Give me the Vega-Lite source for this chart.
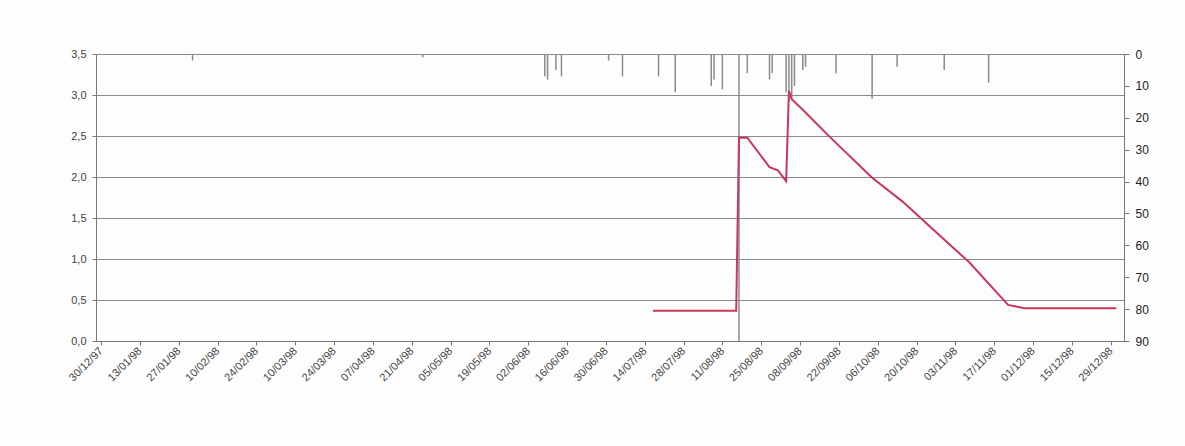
{
  "$schema": "https://vega.github.io/schema/vega-lite/v6.json",
  "width": 1028,
  "height": 287,
  "autosize": {"type": "none"},
  "padding": {"left": 96, "top": 54, "right": 61, "bottom": 105},
  "background": "#fdfdfd",
  "config": {
    "view": {"stroke": null},
    "locale": {"number": {"decimal": ",", "thousands": ".", "grouping": [3], "currency": ["", " €"]}},
    "axis": {"labelFont": "Liberation Sans", "labelColor": "#444", "labelFontSize": 11, "domainColor": "#777", "tickColor": "#777", "titleFontSize": 0},
    "axisX": {"labelOverlap": false, "labelBound": false, "labelFlush": false}
  },
  "datasets": {
    "precip": [
      {"date": "1998-02-01", "mm": 2},
      {"date": "1998-04-25", "mm": 1},
      {"date": "1998-06-08", "mm": 7},
      {"date": "1998-06-09", "mm": 8},
      {"date": "1998-06-12", "mm": 5},
      {"date": "1998-06-14", "mm": 7},
      {"date": "1998-07-01", "mm": 2},
      {"date": "1998-07-06", "mm": 7},
      {"date": "1998-07-19", "mm": 7},
      {"date": "1998-07-25", "mm": 12},
      {"date": "1998-08-07", "mm": 10},
      {"date": "1998-08-08", "mm": 8},
      {"date": "1998-08-11", "mm": 11},
      {"date": "1998-08-17", "mm": 90},
      {"date": "1998-08-20", "mm": 6},
      {"date": "1998-08-28", "mm": 8},
      {"date": "1998-08-29", "mm": 6},
      {"date": "1998-09-03", "mm": 12},
      {"date": "1998-09-04", "mm": 15},
      {"date": "1998-09-05", "mm": 14},
      {"date": "1998-09-06", "mm": 10},
      {"date": "1998-09-09", "mm": 5},
      {"date": "1998-09-10", "mm": 4},
      {"date": "1998-09-21", "mm": 6},
      {"date": "1998-10-04", "mm": 14},
      {"date": "1998-10-13", "mm": 4},
      {"date": "1998-10-30", "mm": 5},
      {"date": "1998-11-15", "mm": 9}
    ],
    "level": [
      {"date": "1998-07-17", "v": 0.37},
      {"date": "1998-08-16", "v": 0.37},
      {"date": "1998-08-17", "v": 2.48},
      {"date": "1998-08-20", "v": 2.48},
      {"date": "1998-08-28", "v": 2.12},
      {"date": "1998-08-31", "v": 2.08},
      {"date": "1998-09-03", "v": 1.95},
      {"date": "1998-09-04", "v": 3.05},
      {"date": "1998-09-05", "v": 2.95},
      {"date": "1998-09-09", "v": 2.82},
      {"date": "1998-09-19", "v": 2.48},
      {"date": "1998-10-04", "v": 1.99},
      {"date": "1998-10-15", "v": 1.70},
      {"date": "1998-10-25", "v": 1.39},
      {"date": "1998-11-08", "v": 0.96},
      {"date": "1998-11-22", "v": 0.44},
      {"date": "1998-11-28", "v": 0.40},
      {"date": "1998-12-31", "v": 0.40}
    ]
  },
  "encoding": {
    "x": {
      "field": "date", "type": "temporal",
      "scale": {"type": "utc", "domain": [{"year": 1997, "month": 12, "date": 30, "utc": true}, {"year": 1999, "month": 1, "date": 1, "utc": true}]},
      "axis": {
        "title": null, "grid": false, "format": "%d/%m/%y", "labelAngle": -45, "labelAlign": "right", "labelBaseline": "middle", "labelPadding": 4, "tickSize": 4, "labelOverlap": false,
        "values": [
          {"year": 1997, "month": 12, "date": 30, "utc": true},
          {"year": 1998, "month": 1, "date": 13, "utc": true},
          {"year": 1998, "month": 1, "date": 27, "utc": true},
          {"year": 1998, "month": 2, "date": 10, "utc": true},
          {"year": 1998, "month": 2, "date": 24, "utc": true},
          {"year": 1998, "month": 3, "date": 10, "utc": true},
          {"year": 1998, "month": 3, "date": 24, "utc": true},
          {"year": 1998, "month": 4, "date": 7, "utc": true},
          {"year": 1998, "month": 4, "date": 21, "utc": true},
          {"year": 1998, "month": 5, "date": 5, "utc": true},
          {"year": 1998, "month": 5, "date": 19, "utc": true},
          {"year": 1998, "month": 6, "date": 2, "utc": true},
          {"year": 1998, "month": 6, "date": 16, "utc": true},
          {"year": 1998, "month": 6, "date": 30, "utc": true},
          {"year": 1998, "month": 7, "date": 14, "utc": true},
          {"year": 1998, "month": 7, "date": 28, "utc": true},
          {"year": 1998, "month": 8, "date": 11, "utc": true},
          {"year": 1998, "month": 8, "date": 25, "utc": true},
          {"year": 1998, "month": 9, "date": 8, "utc": true},
          {"year": 1998, "month": 9, "date": 22, "utc": true},
          {"year": 1998, "month": 10, "date": 6, "utc": true},
          {"year": 1998, "month": 10, "date": 20, "utc": true},
          {"year": 1998, "month": 11, "date": 3, "utc": true},
          {"year": 1998, "month": 11, "date": 17, "utc": true},
          {"year": 1998, "month": 12, "date": 1, "utc": true},
          {"year": 1998, "month": 12, "date": 15, "utc": true},
          {"year": 1998, "month": 12, "date": 29, "utc": true}
        ]
      }
    }
  },
  "layer": [
    {
      "data": {"name": "precip"},
      "mark": {"type": "bar", "width": 1.5, "color": "#8a8a8a"},
      "encoding": {
        "y": {
          "field": "mm", "type": "quantitative",
          "scale": {"domain": [0, 90], "reverse": true, "nice": false},
          "axis": {"title": null, "orient": "right", "values": [0, 10, 20, 30, 40, 50, 60, 70, 80, 90], "grid": false, "tickSize": 5, "labelPadding": 6, "labelFontSize": 12, "labelColor": "#222"}
        }
      }
    },
    {
      "data": {"name": "level"},
      "mark": {"type": "line", "color": "#c8385a", "strokeWidth": 2},
      "encoding": {
        "y": {
          "field": "v", "type": "quantitative",
          "scale": {"domain": [0, 3.5], "nice": false, "zero": true},
          "axis": {"title": null, "orient": "left", "values": [0, 0.5, 1, 1.5, 2, 2.5, 3, 3.5], "format": ".1f", "grid": true, "gridColor": "#8a8a8a", "gridWidth": 1, "tickSize": 4, "labelPadding": 6}
        }
      }
    }
  ],
  "resolve": {"scale": {"y": "independent"}}
}
